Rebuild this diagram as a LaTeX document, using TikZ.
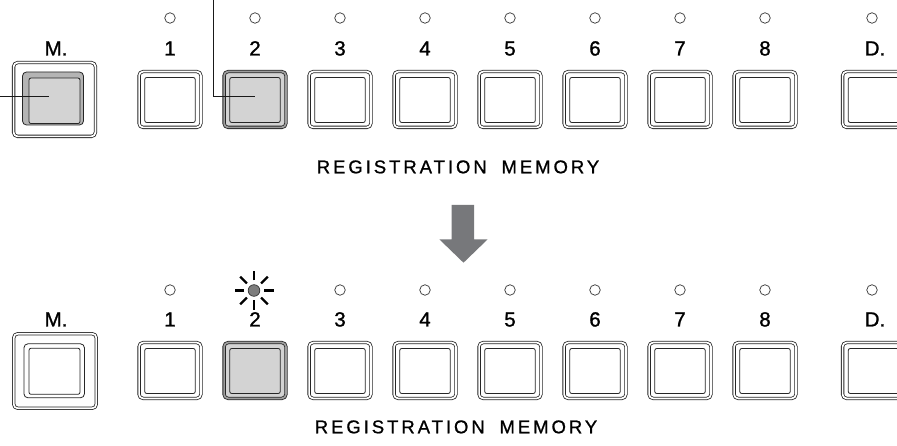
\documentclass[tikz,border=0pt]{standalone}
\usepackage{fontspec}
\setmainfont{Liberation Sans}
\newfontfamily\lblfont[FakeBold=1.2]{Liberation Sans}
\newfontfamily\regfont[FakeBold=1.0,LetterSpace=16]{Liberation Sans}
\definecolor{arrowgray}{HTML}{77787B}
\definecolor{bandgray}{HTML}{9D9D9D}
\definecolor{keylight}{HTML}{D3D3D3}
\definecolor{ringgray}{HTML}{B4B4B4}
\definecolor{ledgray}{HTML}{7D7D7D}
\begin{document}
\begin{tikzpicture}[x=1pt,y=-1pt,
  frame/.style={draw=black!85, line width=0.8pt, double=white, double distance=1.7pt,
    rounded corners=4pt, fill=white, minimum width=61.8pt, minimum height=55.8pt,
    inner sep=0pt, outer sep=0pt},
  pressed/.style={double=bandgray, fill=keylight},
  sq/.style={draw=black!85, line width=0.8pt, rounded corners=2pt, fill=white,
    minimum width=50.5pt, minimum height=45pt, inner sep=0pt, outer sep=0pt},
  keybox/.style={draw=black!85, line width=0.8pt, rounded corners=4pt, fill=white,
    minimum width=60.5pt, minimum height=54pt, inner sep=0pt, outer sep=0pt},
  led/.style={circle, draw=black!80, line width=0.7pt, fill=white, minimum size=10.5pt, inner sep=0pt},
  lbl/.style={font=\lblfont\fontsize{20.5}{20}\selectfont, anchor=base, inner sep=0pt},
  reg/.style={font=\regfont\fontsize{18.5}{18}\selectfont, anchor=base, inner sep=0pt},
  leader/.style={draw=black!90, line width=1.5pt},
  ray/.style={draw=black, line width=2.2pt},
]
\useasboundingbox (0,0) rectangle (897,446);
\clip (0,0) rectangle (897,446);

% ---------------- top row ----------------
\node[frame, minimum width=81.8pt, minimum height=73.8pt] (tm) at (54.5,99.5) {};
\node[keybox, fill=ringgray, minimum width=61pt, minimum height=53pt] (tmk) at (53,98.5) {};
\node[sq, fill=keylight, minimum width=51pt, minimum height=45.5pt] (tmi) at (54.5,100.8) {};
\node[lbl] (tml) at (56,55.5) {M.};

\foreach \i in {1,3,4,5,6,7,8} {
  \pgfmathsetmacro\xx{170+85*(\i-1)}
  \node[led] (tled\i) at (\xx,18) {};
  \node[lbl] (tl\i) at (\xx,55.5) {\i};
  \node[frame] (tb\i) at (\xx,99.5) {};
  \node[sq] (tbi\i) at (\xx,100) {};
}
\node[led] (tled2) at (255,18) {};
\node[lbl] (tl2) at (255,55.5) {2};
\node[frame, pressed] (tb2) at (255,99.5) {};
\node[sq, fill=keylight] (tbi2) at (255,100) {};

\node[led] (tledd) at (872,18) {};
\node[lbl] (tld) at (875,55.5) {D.};
\node[frame] (tbd) at (873.5,99.5) {};
\node[sq] (tbid) at (873.5,100) {};

\node[reg] (treg) at (458,173.3) {REGISTRATION\hspace{0.8em}MEMORY};

\coordinate (la) at (0,96.5);
\coordinate (lb) at (213.3,0);
\draw[leader] (la) -- ([xshift=-4pt]la -| tmk.center);
\draw[leader] (lb) |- (la -| tb2.center);

\fill[arrowgray] (451.7,205) -- (474,205) -- (474,239.3) -- (487.7,239.3)
  -- (463.5,262.7) -- (439.3,239.3) -- (451.7,239.3) -- cycle;

% ---------------- bottom row ----------------
\node[frame, minimum width=82.5pt, minimum height=74.5pt] (bm) at (55,371) {};
\node[keybox] (bmk) at (54.2,370.8) {};
\node[sq, minimum width=51pt, minimum height=46pt] (bmi) at (54.5,371.3) {};
\node[lbl] (bml) at (56,326.5) {M.};

\foreach \i in {1,3,4,5,6,7,8} {
  \pgfmathsetmacro\xx{170+85*(\i-1)}
  \node[led] (bled\i) at (\xx,290) {};
  \node[lbl] (bl\i) at (\xx,326.5) {\i};
  \node[frame] (bb\i) at (\xx,370.5) {};
  \node[sq] (bbi\i) at (\xx,371) {};
}
\node[lbl] (bl2) at (255,326.5) {2};
\node[led, fill=ledgray, minimum size=11.6pt] (bled2) at (254,290.5) {};
\foreach \a in {0,45,...,315}
  \draw[ray] ([shift={(\a:10)}]bled2.center) -- ([shift={(\a:19.5)}]bled2.center);
\node[frame, pressed] (bb2) at (255,370.5) {};
\node[sq, fill=keylight] (bbi2) at (255,371) {};

\node[led] (bledd) at (872,290) {};
\node[lbl] (bld) at (875,326.5) {D.};
\node[frame] (bbd) at (873.5,370.5) {};
\node[sq] (bbid) at (873.5,371) {};

\node[reg] (breg) at (456,433.3) {REGISTRATION\hspace{0.8em}MEMORY};
\end{tikzpicture}
\end{document}
